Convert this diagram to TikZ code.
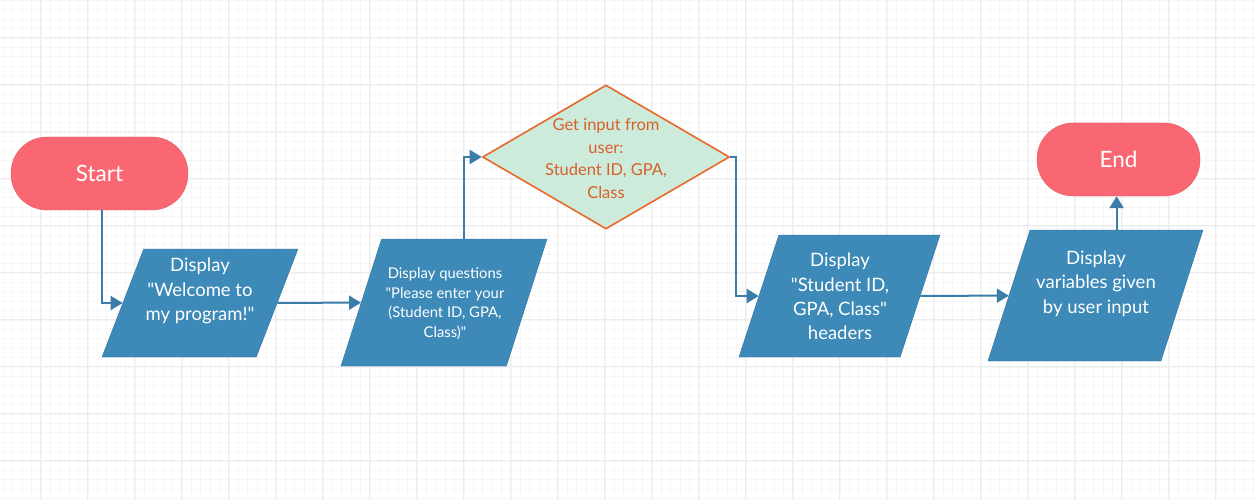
\documentclass[tikz,border=0pt]{standalone}
\usepackage{fontspec}
\setmainfont{Lato}
\usetikzlibrary{shapes.geometric,arrows.meta}
\definecolor{termred}{HTML}{F96872}
\definecolor{ioblue}{HTML}{3D89B8}
\definecolor{lineblue}{HTML}{3A7DA8}
\definecolor{decgreen}{HTML}{CDEBDB}
\definecolor{decorange}{HTML}{E8692A}
\definecolor{dectext}{HTML}{D8602A}
\definecolor{gridminor}{HTML}{F6F6F6}
\definecolor{gridmajor}{HTML}{ECECEC}
\tikzset{
  terminal/.style={rectangle, rounded corners=36pt, fill=termred, draw=termred!90!black, line width=0.4pt, minimum width=177pt, minimum height=73pt, inner sep=0pt},
  termtext/.style={text=white, font=\fontsize{22.5}{26}\selectfont},
  iobox/.style={trapezium, trapezium left angle=#1, trapezium right angle={180-#1}, trapezium stretches=true, fill=ioblue, draw=ioblue!85!black, line width=0.4pt, inner sep=2pt},
  iotext/.style={text=white, align=center, font=\fontsize{18.5}{24.3}\selectfont},
  iosmall/.style={text=white, align=center, font=\fontsize{14.8}{19.7}\selectfont},
  decision/.style={diamond, aspect=1.715, fill=decgreen, draw=decorange, line width=1.6pt, inner sep=0pt, minimum width=247pt, minimum height=144pt},
  dectextstyle/.style={text=dectext, align=center, font=\fontsize{16.5}{22.5}\selectfont},
  flow/.style={draw=lineblue, line width=2pt, -{Triangle[length=12pt,width=14pt]}},
}
\newcommand{\dq}{\textquotedbl}
\begin{document}
\begin{tikzpicture}[x=1pt,y=-1pt]
\useasboundingbox (0,0) rectangle (1255,500);
\fill[white] (0,0) rectangle (1255,500);
% grid
\foreach \i in {0,...,134} {
  \draw[gridminor, line width=0.7pt] (\i*9.4+3.4,0) -- (\i*9.4+3.4,500);
}
\foreach \j in {0,...,53} {
  \draw[gridminor, line width=0.7pt] (0,\j*9.4+0.4) -- (1255,\j*9.4+0.4);
}
\foreach \i in {0,...,26} {
  \draw[gridmajor, line width=0.7pt] (\i*47+40,0) -- (\i*47+40,500);
}
\foreach \j in {0,...,10} {
  \draw[gridmajor, line width=0.7pt] (0,\j*47+37) -- (1255,\j*47+37);
}

% nodes
\node[terminal] (start) at (99.5,173.5) {};
\node[termtext] (starttext) at (start) {Start};

\node[iobox=69.7, minimum width=196pt, minimum height=108pt] (d1) at (200,303) {};
\node[iotext] (t1) at (200,291) {Display\\\dq Welcome to\\my program!\dq};

\node[iobox=72, minimum width=206pt, minimum height=127pt] (d2) at (444,302.5) {};
\node[iosmall] (t2) at (445,303.5) {Display questions\\\dq Please enter your\\(Student ID, GPA,\\Class)\dq};

\node[decision] (dia) at (606,157) {};
\node[dectextstyle] (tdia) at (606,158.5) {Get input from\\user:\\Student ID, GPA,\\Class};

\node[iobox=71.8, minimum width=201pt, minimum height=122pt] (d3) at (839.5,296) {};
\node[iotext] (t3) at (840,296.5) {Display\\\dq Student ID,\\GPA, Class\dq\\headers};

\node[iobox=72.2, minimum width=215pt, minimum height=131pt] (d4) at (1095.5,295.5) {};
\node[iotext] (t4) at (1096,283.5) {Display\\variables given\\by user input};

\node[terminal, minimum width=163pt] (end) at (1118.5,159.5) {};
\node[termtext] (endtext) at (end) {End};

% connectors
\draw[flow] ([xshift=2.5pt]start.south) |- (d1);
\draw[flow] (d1) -- (d2);
\draw[flow] (d2.top side) |- (dia.west);
\draw[flow] (dia.east) -- ++(6,0) |- (d3);
\draw[flow] (d3) -- (d4);
\draw[flow] (d4.top side) -- (d4.top side |- end.south);
\end{tikzpicture}
\end{document}
